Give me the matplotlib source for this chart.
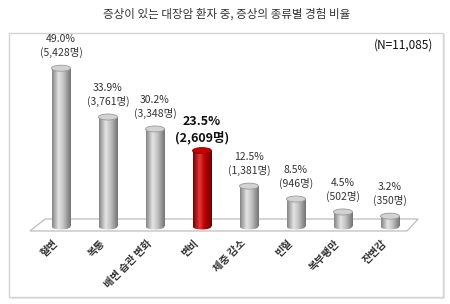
import numpy as np
import matplotlib
matplotlib.use('Agg')
import matplotlib.pyplot as plt
from matplotlib.colors import LinearSegmentedColormap
from matplotlib.patches import Ellipse, Polygon, Rectangle

plt.rcParams['font.family'] = ['Noto Sans CJK KR', 'DejaVu Sans']

categories = ['혈변', '복통', '배변 습관 변화', '변비', '체중 감소', '빈혈', '복부팽만', '잔변감']
percents = [49.0, 33.9, 30.2, 23.5, 12.5, 8.5, 4.5, 3.2]
counts = [5428, 3761, 3348, 2609, 1381, 946, 502, 350]
highlight = 3
title = '증상이 있는 대장암 환자 중, 증상의 종류별 경험 비율'
n_label = '(N=11,085)'

fig = plt.figure(figsize=(4.5, 3.04), dpi=100)
fig.patch.set_facecolor('white')

# outer frame
fig.patches.append(Rectangle((11 / 450, 1 - 299 / 304), 434 / 450, 265 / 304,
                             transform=fig.transFigure, facecolor='#e6e6e6',
                             edgecolor='none', zorder=-2))
fig.patches.append(Rectangle((9 / 450, 1 - 297 / 304), 434 / 450, 264 / 304,
                             transform=fig.transFigure, facecolor='white',
                             edgecolor='#d4d4d4', linewidth=1.0, zorder=-1))

ax = fig.add_axes([0, 0, 1, 1])
ax.set_axis_off()
ax.patch.set_alpha(0)

# pixel mapping: x px = 61 + 47*i ; y px = 226.5 - 3.23*v
xlim = (-61 / 47, (450 - 61) / 47)
ylim = ((226.5 - 304) / 3.23, 226.5 / 3.23)
px_y = 3.23  # px per percent
ell_h = 6 / px_y
width = 19 / 47

gray_cm = LinearSegmentedColormap.from_list('g', [(0, '#858585'), (0.35, '#e4e4e4'), (0.6, '#c4c4c4'), (1, '#737373')])
red_cm = LinearSegmentedColormap.from_list('r', [(0, '#7a0000'), (0.35, '#e23a3a'), (0.6, '#c00000'), (1, '#6e0000')])
grad = np.linspace(0, 1, 64).reshape(1, -1)

# floor
floor = Polygon([(-0.66, -1.39), (-0.34, 2.32), (7.60, 2.32), (7.36, -1.39)],
                closed=True, facecolor='white', edgecolor='#bdbdbd', linewidth=0.9, zorder=1)
ax.add_patch(floor)

x = np.arange(len(categories))
bars = ax.bar(x, percents, width=width, color='none', edgecolor='none', zorder=2)

for i, (b, v) in enumerate(zip(bars, percents)):
    cm = red_cm if i == highlight else gray_cm
    x0 = x[i] - width / 2
    # bottom ellipse
    bot = Ellipse((x[i], 0), width, ell_h, facecolor='none', edgecolor='none', zorder=2)
    ax.add_patch(bot)
    im = ax.imshow(grad, cmap=cm, extent=(x0, x0 + width, -ell_h, v), aspect='auto', zorder=2)
    im.set_clip_path(bot)
    im2 = ax.imshow(grad, cmap=cm, extent=(x0, x0 + width, 0, v), aspect='auto', zorder=2)
    im2.set_clip_path(b)
    top_fc = '#c80000' if i == highlight else '#d2d2d2'
    top_ec = '#8a0000' if i == highlight else '#9a9a9a'
    ax.add_patch(Ellipse((x[i], v), width, ell_h, facecolor=top_fc, edgecolor=top_ec,
                         linewidth=0.6, zorder=3))
    if i == highlight:
        ax.text(x[i], v + 6 / px_y, '%.1f%%\n(%s명)' % (v, format(counts[i], ',')),
                ha='center', va='bottom', fontsize=9, fontweight='bold', color='#111111',
                linespacing=1.25, zorder=4)
    else:
        ax.text(x[i], v + 10 / px_y, '%.1f%%\n(%s명)' % (v, format(counts[i], ',')),
                ha='center', va='bottom', fontsize=7.5, color='#333333',
                linespacing=1.3, zorder=4)

for i, c in enumerate(categories):
    ax.text(x[i] - 0.18, -3.6, c, rotation=45, rotation_mode='anchor', ha='right', va='top',
            fontsize=7.5, fontweight='bold', color='#333333')

ax.set_xlim(*xlim)
ax.set_ylim(*ylim)

fig.text(227 / 450, 1 - 14 / 304, title, ha='center', va='center', fontsize=8.3, color='#333333')
fig.text(433 / 450, 1 - 45 / 304, n_label, ha='right', va='center', fontsize=8.5, color='#111111')

fig.savefig('out.png', dpi=100)
